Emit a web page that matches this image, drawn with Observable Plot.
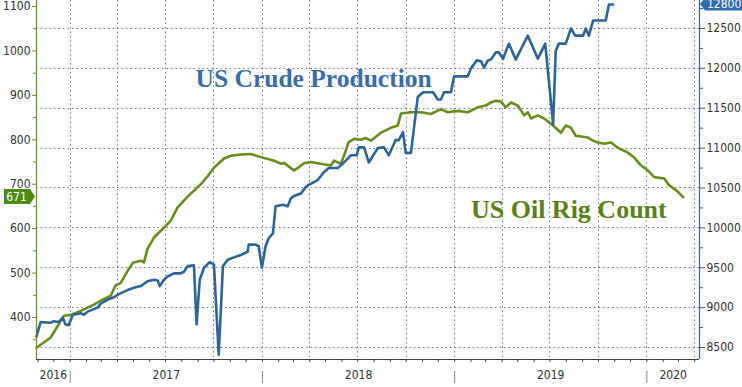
<!DOCTYPE html>
<html><head><meta charset="utf-8">
<script src="https://cdn.jsdelivr.net/npm/d3@7"></script>
<script src="https://cdn.jsdelivr.net/npm/@observablehq/plot@0.6"></script>
<style>body{margin:0;background:#fff}</style>
</head><body><div id="chart"></div>
<script>
// US oil rig count (left axis)
const rigDates = ["2016-10-29","2016-11-25","2016-12-20","2017-01-02","2017-01-21","2017-02-15","2017-02-28","2017-03-19","2017-03-28","2017-04-07","2017-04-20","2017-04-30","2017-05-15","2017-05-21","2017-05-28","2017-06-09","2017-06-28","2017-07-11","2017-07-24","2017-08-12","2017-09-06","2017-09-19","2017-10-01","2017-10-20","2017-11-02","2017-11-21","2017-12-10","2017-12-29","2018-01-23","2018-02-05","2018-02-11","2018-03-02","2018-03-11","2018-03-21","2018-04-03","2018-04-22","2018-05-11","2018-05-17","2018-05-30","2018-06-05","2018-06-14","2018-06-24","2018-07-07","2018-07-16","2018-07-26","2018-08-14","2018-09-02","2018-09-15","2018-09-21","2018-10-10","2018-10-29","2018-11-17","2018-12-06","2018-12-19","2019-01-07","2019-01-26","2019-02-14","2019-03-01","2019-03-11","2019-03-20","2019-03-30","2019-04-08","2019-04-18","2019-05-01","2019-05-13","2019-05-20","2019-05-26","2019-06-08","2019-06-20","2019-07-07","2019-07-22","2019-07-31","2019-08-10","2019-08-19","2019-09-11","2019-09-21","2019-09-30","2019-10-12","2019-10-25","2019-11-07","2019-11-26","2019-12-08","2019-12-21","2020-01-03","2020-01-15","2020-02-03","2020-02-12","2020-02-26","2020-03-10"];
const rigValues = [332,355,404,406,415,429,438,449,472,478,505,523,528,524,555,580,602,618,648,672,700,718,737,758,764,767,768,761,753,746,748,731,738,747,750,746,742,753,746,765,795,802,800,804,798,816,827,832,859,862,862,858,869,862,865,862,873,877,884,888,886,873,884,877,855,862,848,855,848,832,816,832,827,809,805,798,794,791,794,782,771,760,742,731,716,713,698,686,671];

// US crude production, thousand b/d (right axis)
const prodDates = ["2016-10-29","2016-11-06","2016-11-25","2016-12-01","2016-12-10","2016-12-18","2016-12-23","2016-12-29","2017-01-06","2017-01-21","2017-01-27","2017-02-03","2017-02-22","2017-02-28","2017-03-13","2017-03-25","2017-04-03","2017-04-20","2017-05-02","2017-05-15","2017-05-28","2017-06-09","2017-06-16","2017-06-20","2017-06-28","2017-07-05","2017-07-17","2017-07-30","2017-08-05","2017-08-12","2017-08-24","2017-08-29","2017-09-04","2017-09-12","2017-09-23","2017-10-01","2017-10-10","2017-10-18","2017-10-27","2017-11-08","2017-11-21","2017-12-04","2017-12-06","2017-12-19","2017-12-25","2017-12-31","2018-01-07","2018-01-13","2018-01-21","2018-01-26","2018-02-09","2018-02-18","2018-02-24","2018-03-02","2018-03-15","2018-03-24","2018-03-30","2018-04-16","2018-04-28","2018-05-07","2018-05-24","2018-06-05","2018-06-18","2018-06-29","2018-07-03","2018-07-13","2018-07-22","2018-08-08","2018-08-20","2018-08-29","2018-09-11","2018-09-17","2018-09-25","2018-09-30","2018-10-10","2018-10-23","2018-11-02","2018-11-21","2018-11-30","2018-12-06","2018-12-12","2018-12-25","2018-12-31","2019-01-26","2019-02-01","2019-02-12","2019-02-20","2019-02-26","2019-03-05","2019-03-11","2019-03-20","2019-03-26","2019-04-03","2019-04-14","2019-04-27","2019-05-20","2019-06-08","2019-06-22","2019-07-07","2019-07-12","2019-07-18","2019-07-31","2019-08-10","2019-08-18","2019-09-02","2019-09-07","2019-09-13","2019-09-21","2019-10-15","2019-10-21","2019-10-29"];
const prodValues = [8640,8820,8810,8830,8820,8870,8790,8780,8910,8930,8910,8950,9000,9050,9100,9130,9170,9220,9250,9270,9330,9350,9340,9270,9350,9390,9430,9430,9450,9520,9530,8790,9350,9500,9570,9540,8410,9520,9600,9630,9660,9700,9790,9790,9770,9500,9770,9870,9930,10270,10290,10270,10370,10400,10430,10510,10540,10600,10700,10750,10750,10820,10910,10910,11010,11010,10820,11000,11010,10910,11100,11100,11200,10940,10940,11640,11700,11700,11610,11610,11700,11700,11900,11900,12000,12100,12090,12010,12100,12110,12200,12200,12120,12310,12110,12410,12120,12310,11300,12220,12310,12310,12500,12410,12410,12500,12410,12600,12600,12800,12800];

const leftTicks = [400,500,600,700,800,900,1000,1100];
const leftMinor = [350,450,550,650,750,850,950,1050];
const rightTicks = [8500,9000,9500,10000,10500,11000,11500,12000,12500];
const rightMinor = [8750,9250,9750,10250,10750,11250,11750,12250,12750];
const yearLabels = ["2016","2017","2018","2019","2020"];
const seriesNames = ["US Crude Production","US Oil Rig Count"];

const xStart = new Date("2016-10-29"), xEnd = new Date("2020-04-10");
const rigDomain = [305.5, 1113.5];
// production -> rig-count scale (right axis overlay)
const prodToRig = p => 332.5 + (p - 8500) * 0.1795;
const rigToProd = r => 8500 + (r - 332.5) / 0.1795;

const rig = rigDates.map((d,i) => ({date: new Date(d), value: rigValues[i]}));
const prod = prodDates.map((d,i) => ({date: new Date(d), value: prodValues[i]}));
const lastRig = rig[rig.length-1].value;
const lastProd = prod[prod.length-1].value;

const blue = "#2f6496", blueText = "#3b6ea6", blueBadge = "#2f6cab";
const green = "#6a8d1f", greenText = "#5b7e17", greenBadge = "#4f8a14";
const gridColor = "#7a7a7a";
const axisFont = "'Liberation Sans Narrow','DejaVu Sans Condensed','Arial Narrow',sans-serif";

const quarters = d3.utcMonth.every(3).range(xStart, xEnd);
const months = d3.utcMonth.range(xStart, xEnd);
const yearStarts = d3.utcYear.range(xStart, xEnd);
const yearMid = yearLabels.map(y => {
  const a = new Date(Math.max(+new Date(y + "-01-01"), +xStart));
  const b = new Date(Math.min(+new Date((+y + 1) + "-01-01"), +xEnd));
  return {label: y, date: new Date((+a + +b) / 2)};
});

// dotted grid drawn through the plot's own x / y scales
function gridLayer(index, {x, y}, values, dims) {
  const g = d3.create("svg:g")
    .attr("stroke", gridColor).attr("stroke-width", 1).attr("stroke-dasharray", "1.5,3").attr("fill", "none");
  const top = dims.marginTop, bottom = dims.height - dims.marginBottom;
  const left = dims.marginLeft, right = dims.width - dims.marginRight;
  for (const q of quarters) {
    const px = Math.round(x(q)) + 0.5;
    g.append("line").attr("x1", px).attr("x2", px).attr("y1", top).attr("y2", bottom);
  }
  for (const t of rightTicks) {
    const py = Math.round(y(prodToRig(t))) + 0.5;
    g.append("line").attr("x1", left).attr("x2", right).attr("y1", py).attr("y2", py);
  }
  return g.node();
}

function badges(index, {y}, values, dims) {
  const g = d3.create("svg:g");
  const yl = y(lastRig);
  const L = dims.marginLeft;
  g.append("path").attr("d", `M4,${yl-7.5}H${L-6}L${L-1},${yl}L${L-6},${yl+7.5}H4Z`).attr("fill", greenBadge);
  g.append("text").attr("x", (L-3)/2).attr("y", yl).attr("dy", "0.35em").attr("text-anchor","middle")
    .attr("fill","#fff").attr("font-size", 12).attr("font-family", axisFont).text(String(lastRig));
  const yr = y(prodToRig(lastProd));
  const R = dims.width - dims.marginRight;
  g.append("path").attr("d", `M${R+1},${yr}L${R+6},${yr-6.5}H${dims.width}V${yr+6.5}H${R+6}Z`).attr("fill", blueBadge);
  g.append("text").attr("x", R+8).attr("y", yr).attr("dy", "0.35em").attr("text-anchor","start")
    .attr("fill","#fff").attr("font-size", 12).attr("font-family", axisFont).text(String(lastProd));
  return g.node();
}

const chart = Plot.plot({
  width: 742, height: 387,
  marginLeft: 36, marginRight: 43, marginTop: 0, marginBottom: 28,
  style: {fontFamily: axisFont, fontSize: "12px", color: "#333"},
  x: {type: "utc", domain: [xStart, xEnd], label: null},
  y: {domain: rigDomain, label: null},
  marks: [
    gridLayer,
    Plot.line(rig, {x: "date", y: "value", stroke: green, strokeWidth: 2.6}),
    Plot.line(prod, {x: "date", y: d => prodToRig(d.value), stroke: blue, strokeWidth: 2.6}),
    Plot.ruleX([xStart], {stroke: green, strokeWidth: 1.2}),
    Plot.ruleX([xEnd], {stroke: blue, strokeWidth: 1.2}),
    Plot.ruleY([rigDomain[0]], {stroke: "#444", strokeWidth: 1}),
    Plot.axisY(leftTicks, {anchor: "left", label: null, tickSize: 4, tickPadding: 2, stroke: green, fill: "#333", fontSize: 12,
      tickFormat: d3.format("d")}),
    Plot.axisY(leftMinor, {anchor: "left", label: null, tickSize: 3, tickFormat: () => "", stroke: green}),
    Plot.axisY(rightTicks.map(prodToRig), {anchor: "right", label: null, tickSize: 5, tickPadding: 2, stroke: blue, fill: "#333", fontSize: 12,
      tickFormat: v => String(Math.round(rigToProd(v)))}),
    Plot.axisY(rightMinor.map(prodToRig), {anchor: "right", label: null, tickSize: 3, tickFormat: () => "", stroke: blue}),
    Plot.axisX(months, {anchor: "bottom", label: null, tickSize: 3, tickFormat: () => "", stroke: "#444"}),
    Plot.axisX(yearStarts, {anchor: "bottom", label: null, tickSize: 12, dy: 12, tickFormat: () => "", stroke: "#888"}),
    Plot.text(yearMid, {x: "date", text: "label", frameAnchor: "bottom", dy: 19, fill: "#333", fontSize: 12}),
    Plot.text([seriesNames[0]], {x: () => new Date("2017-08-27"), y: () => 918, text: d => d, textAnchor: "start", lineAnchor: "bottom",
      fill: blueText, fontFamily: "'Liberation Serif','Times New Roman',serif", fontWeight: "bold", fontSize: 25.5}),
    Plot.text([seriesNames[1]], {x: () => new Date("2019-02-01"), y: () => 625, text: d => d, textAnchor: "start", lineAnchor: "bottom",
      fill: greenText, fontFamily: "'Liberation Serif','Times New Roman',serif", fontWeight: "bold", fontSize: 26}),
    badges
  ]
});
document.getElementById("chart").append(chart);
</script>
</body></html>
